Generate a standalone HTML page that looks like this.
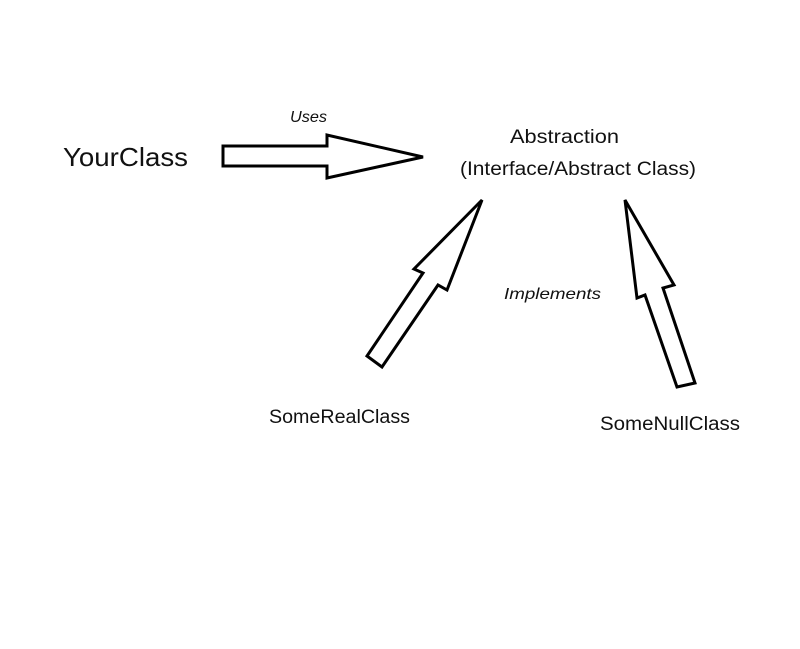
<!DOCTYPE html>
<html><head><style>html,body{margin:0;padding:0;background:#fff;}svg{display:block}</style></head>
<body>
<svg width="800" height="649" viewBox="0 0 800 649" xmlns="http://www.w3.org/2000/svg" font-family="Liberation Sans, sans-serif" fill="#111">
<g fill="#fff" stroke="#000" stroke-width="3" stroke-linejoin="miter">
<polygon points="223,146 327,146 327,135 423,157 327,178 327,166 223,166"/>
<polygon points="482,200 447,290 438,285 382,367 367,356 423,273 414,269"/>
<polygon points="625,200 674,285 663,288 695,383 677,387 645,295 637,298"/>
</g>
<text x="63" y="166" font-size="26" textLength="125" lengthAdjust="spacingAndGlyphs">YourClass</text>
<text x="290" y="122" font-size="16" font-style="italic" textLength="37" lengthAdjust="spacingAndGlyphs">Uses</text>
<text x="510" y="143" font-size="19" textLength="109" lengthAdjust="spacingAndGlyphs">Abstraction</text>
<text x="460" y="175" font-size="19" textLength="236" lengthAdjust="spacingAndGlyphs">(Interface/Abstract Class)</text>
<text x="504" y="299" font-size="16" font-style="italic" textLength="97" lengthAdjust="spacingAndGlyphs">Implements</text>
<text x="269" y="423" font-size="19" textLength="141" lengthAdjust="spacingAndGlyphs">SomeRealClass</text>
<text x="600" y="430" font-size="19" textLength="140" lengthAdjust="spacingAndGlyphs">SomeNullClass</text>
</svg>
</body></html>
